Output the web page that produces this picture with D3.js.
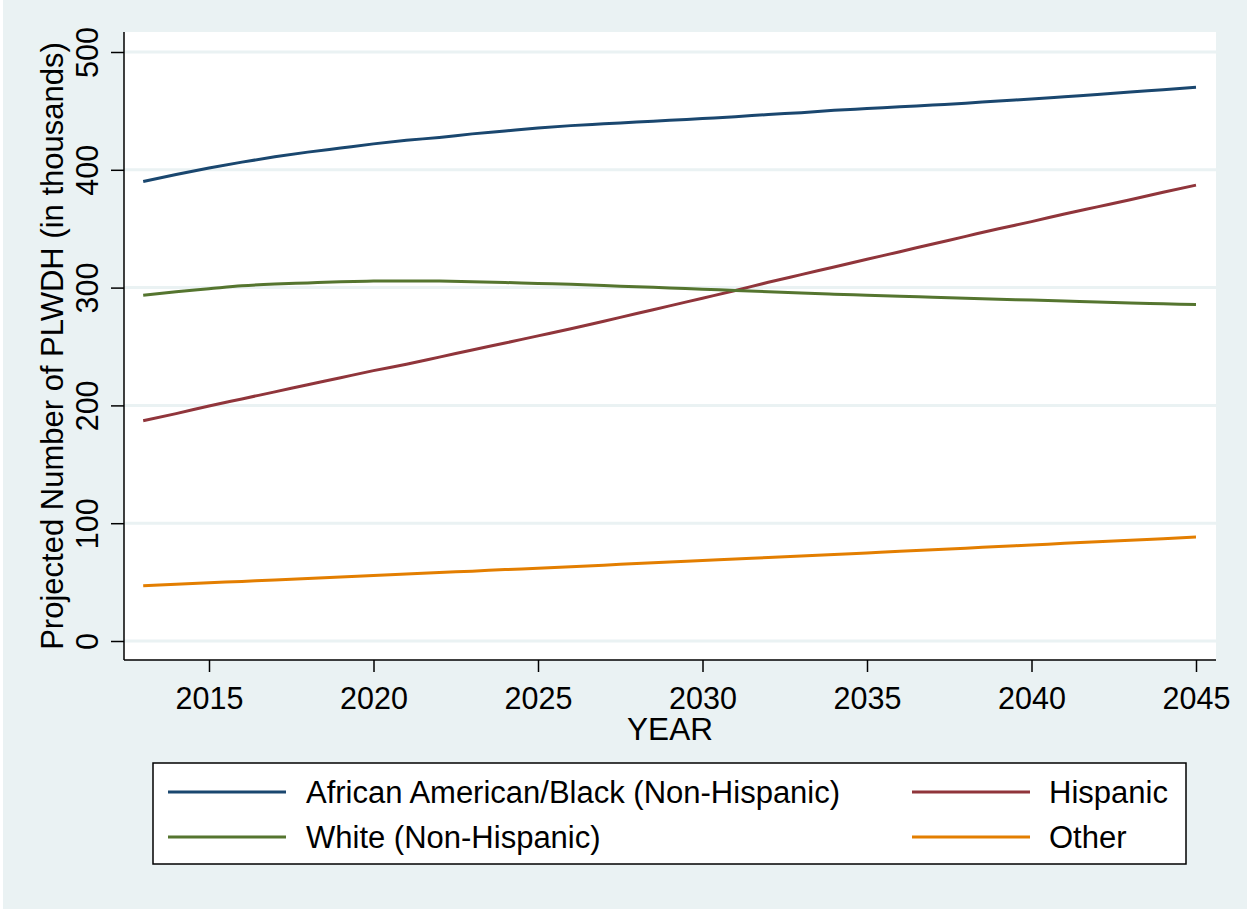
<!DOCTYPE html>
<html>
<head>
<meta charset="utf-8">
<script src="https://cdn.jsdelivr.net/npm/d3@7"></script>
<style>
  html, body { margin: 0; padding: 0; background: #ffffff; }
  svg { display: block; }
  text { font-family: "Liberation Sans", Arial, sans-serif; fill: #000; }
</style>
</head>
<body>
<svg id="chart" width="1247" height="909"></svg>
<script>
const years = d3.range(2013, 2046);
const black = [390, 396, 401.5, 406.5, 411, 415, 418.5, 422, 425, 427.5, 430.5, 433, 435.5, 437.5, 439, 440.5, 442, 443.5, 445, 447, 448.5, 450.5, 452, 453.5, 455, 456.5, 458.5, 460, 462, 464, 466, 468, 470];
const hispanic = [187, 193, 199.5, 205.5, 211.5, 217.5, 223.5, 229.5, 235, 241, 247, 253, 259, 265, 271.5, 278, 284.5, 291, 297.5, 304.5, 311, 317.5, 324, 330.5, 337, 343.5, 350, 356, 362.5, 368.5, 374.5, 381, 387];
const white = [293.5, 296.5, 299, 301.5, 303, 304, 305, 305.5, 305.7, 305.5, 305, 304.3, 303.5, 302.8, 301.8, 300.7, 299.7, 298.6, 297.6, 296.5, 295.4, 294.4, 293.5, 292.6, 291.8, 291, 290.2, 289.4, 288.6, 287.8, 287, 286.3, 285.6];
const other = [47, 48.2, 49.4, 50.6, 51.8, 53.1, 54.3, 55.6, 56.8, 58.1, 59.3, 60.6, 61.8, 63.1, 64.4, 65.7, 67, 68.3, 69.6, 70.9, 72.2, 73.5, 74.8, 76.1, 77.5, 78.8, 80.2, 81.5, 82.9, 84.2, 85.6, 86.9, 88.3];

const seriesNames = ["African American/Black (Non-Hispanic)", "Hispanic", "White (Non-Hispanic)", "Other"];
const seriesColors = ["#1a476f", "#90353b", "#55752f", "#e37e00"];
const seriesValues = [black, hispanic, white, other];

const xTicks = [2015, 2020, 2025, 2030, 2035, 2040, 2045];
const yTicks = [0, 100, 200, 300, 400, 500];
const xTitle = "YEAR";
const yTitle = "Projected Number of PLWDH (in thousands)";

const svg = d3.select("#chart");
const W = 1247, H = 909;
const plot = { left: 124, right: 1216, top: 32, bottom: 660 };

const x = d3.scaleLinear().domain([2015, 2045]).range([209, 1196]);
const y = d3.scaleLinear().domain([0, 500]).range([641, 52]);

// background
svg.append("rect").attr("x", 3).attr("y", 0).attr("width", W - 3).attr("height", H).attr("fill", "#eaf2f3");
// plot region
svg.append("rect").attr("x", plot.left).attr("y", plot.top)
  .attr("width", plot.right - plot.left).attr("height", plot.bottom - plot.top).attr("fill", "#ffffff");

// gridlines
svg.append("g").selectAll("line").data(yTicks).join("line")
  .attr("x1", plot.left).attr("x2", plot.right)
  .attr("y1", d => y(d)).attr("y2", d => y(d))
  .attr("stroke", "#eaf2f3").attr("stroke-width", 3);

// lines
const line = d3.line().curve(d3.curveMonotoneX).x((d, i) => x(years[i])).y(d => y(d));
svg.append("g").selectAll("path").data(seriesValues).join("path")
  .attr("d", d => line(d))
  .attr("fill", "none")
  .attr("stroke", (d, i) => seriesColors[i])
  .attr("stroke-width", 3)
  .attr("stroke-linejoin", "round");

// y axis
const yAxis = d3.axisLeft(y).tickValues(yTicks).tickSize(13).tickPadding(10);
const gy = svg.append("g").attr("transform", `translate(${plot.left},0)`).call(yAxis);
gy.select(".domain").remove();
gy.selectAll(".tick line").attr("stroke", "#000").attr("stroke-width", 1.5);
gy.selectAll(".tick text")
  .attr("font-size", 30.5)
  .attr("x", 0).attr("y", 0)
  .attr("dy", 0)
  .attr("text-anchor", "middle")
  .attr("transform", "translate(-26,0) rotate(-90)");
gy.append("line").attr("x1", 0).attr("x2", 0).attr("y1", plot.top).attr("y2", plot.bottom)
  .attr("stroke", "#000").attr("stroke-width", 1.5);

// x axis
const xAxis = d3.axisBottom(x).tickValues(xTicks).tickFormat(d3.format("d")).tickSize(12).tickPadding(14);
const gx = svg.append("g").attr("transform", `translate(0,${plot.bottom})`).call(xAxis);
gx.select(".domain").remove();
gx.selectAll(".tick line").attr("stroke", "#000").attr("stroke-width", 1.5);
gx.selectAll(".tick text").attr("font-size", 30.5).attr("dy", 0).attr("y", 49);
gx.append("line").attr("x1", plot.left).attr("x2", plot.right).attr("y1", 0).attr("y2", 0)
  .attr("stroke", "#000").attr("stroke-width", 1.5);

// axis titles
svg.append("text").attr("x", (plot.left + plot.right) / 2).attr("y", 740)
  .attr("text-anchor", "middle").attr("font-size", 31.5).text(xTitle);
svg.append("text")
  .attr("transform", `translate(63,${(plot.top + plot.bottom) / 2}) rotate(-90)`)
  .attr("text-anchor", "middle").attr("font-size", 31).text(yTitle);

// legend
const lg = svg.append("g");
lg.append("rect").attr("x", 153).attr("y", 763).attr("width", 1033).attr("height", 101)
  .attr("fill", "#ffffff").attr("stroke", "#000").attr("stroke-width", 1.5);
const legendPos = [
  { lx: 168, tx: 306, ly: 792 },
  { lx: 912, tx: 1049, ly: 792 },
  { lx: 168, tx: 306, ly: 837 },
  { lx: 912, tx: 1049, ly: 837 }
];
seriesNames.forEach((name, i) => {
  const p = legendPos[i];
  lg.append("line").attr("x1", p.lx).attr("x2", p.lx + 118).attr("y1", p.ly).attr("y2", p.ly)
    .attr("stroke", seriesColors[i]).attr("stroke-width", 3);
  lg.append("text").attr("x", p.tx).attr("y", p.ly + 11).attr("font-size", 31).text(name);
});
</script>
</body>
</html>
